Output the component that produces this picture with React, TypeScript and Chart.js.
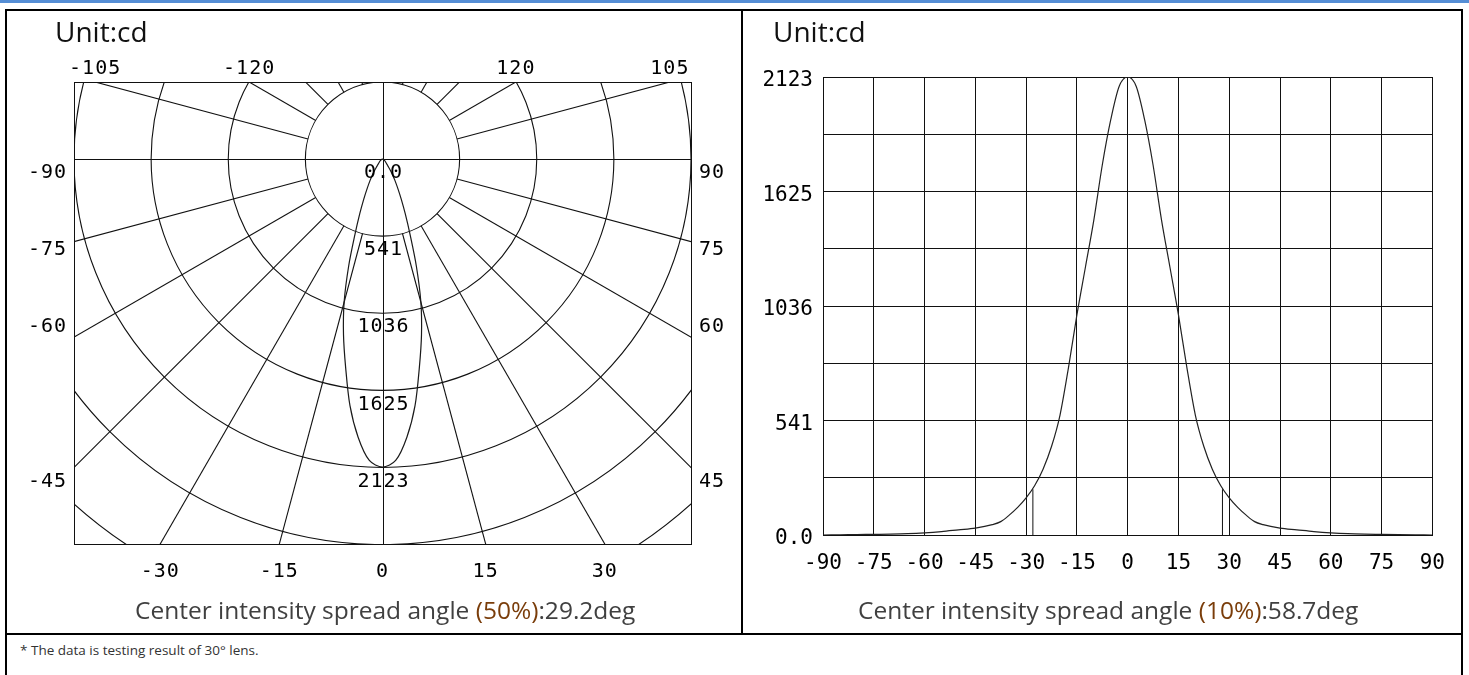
import React, { useEffect, useRef } from 'react';
import { Chart, registerables } from 'chart.js';

Chart.register(...registerables);

// ---------- data ----------
const angles = [
  -90, -85, -80, -75, -70, -65, -60, -55, -50, -45, -40, -37.5, -35, -32.5, -30, -27.5, -25, -22.5, -20, -17.5,
  -15, -12.5, -10, -7.5, -5, -2.5, 0, 2.5, 5, 7.5, 10, 12.5, 15, 17.5, 20, 22.5, 25, 27.5, 30, 32.5, 35, 37.5,
  40, 45, 50, 55, 60, 65, 70, 75, 80, 85, 90,
];
const intensity = [
  0, 1, 2, 3, 4, 6, 10, 16, 24, 32, 48, 62, 92, 128, 172, 228, 305, 410, 555, 775,
  1020, 1240, 1460, 1715, 1925, 2080, 2123, 2080, 1925, 1715, 1460, 1240, 1020, 775, 555, 410, 305, 228, 172, 128, 92, 62,
  48, 32, 24, 16, 10, 6, 4, 3, 2, 1, 0,
];
const peakValue = 2123;
const peakRing = 4;

// polar diagram
const ringRadii = [1, 2, 3, 4, 5, 6];
const ringLabels = ['0.0', '541', '1036', '1625', '2123'];
const spokeAngles = [
  -165, -150, -135, -120, -105, -75, -60, -45, -30, -15, 15, 30, 45, 60, 75, 105, 120, 135, 150, 165,
];
const polarAngleLabels = [-30, -15, 0, 15, 30, -45, -60, -75, -90, 45, 60, 75, 90, -105, -120, 120, 105];

// cartesian diagram
const xTickStep = 15;
const yTickLabels = ['0.0', '', '541', '', '1036', '', '1625', '', '2123'];
const markerAngles = [-28, 28];
const markerFraction = 0.1;

// texts
const unitText = 'Unit:cd';
const captionLeft = ['Center intensity spread angle ', '(50%)', ':29.2deg'];
const captionRight = ['Center intensity spread angle ', '(10%)', ':58.7deg'];
const footnote = '* The data is testing result of 30° lens.';

const MONO = '"DejaVu Sans Mono", monospace';
const LINE = '#111';

// ---------- polar chart ----------
const polarGridPlugin = {
  id: 'polarGrid',
  beforeDatasetsDraw(chart: any) {
    const { ctx, chartArea: a, scales } = chart;
    const cx = scales.x.getPixelForValue(0);
    const cy = scales.y.getPixelForValue(0);
    const unit = scales.x.getPixelForValue(1) - cx;
    ctx.save();
    ctx.beginPath();
    ctx.rect(a.left, a.top, a.right - a.left, a.bottom - a.top);
    ctx.clip();
    ctx.strokeStyle = LINE;
    ctx.lineWidth = 1.1;
    ringRadii.forEach((r) => {
      ctx.beginPath();
      ctx.arc(cx, cy, r * unit, 0, Math.PI * 2);
      ctx.stroke();
    });
    spokeAngles.forEach((deg) => {
      const t = (deg * Math.PI) / 180;
      const dx = Math.sin(t);
      const dy = Math.cos(t);
      ctx.beginPath();
      ctx.moveTo(cx + dx * unit, cy + dy * unit);
      ctx.lineTo(cx + dx * unit * 20, cy + dy * unit * 20);
      ctx.stroke();
    });
    ctx.lineWidth = 1;
    const ry = Math.round(cy) + 0.5;
    const rx = Math.round(cx) + 0.5;
    ctx.beginPath();
    ctx.moveTo(a.left, ry);
    ctx.lineTo(a.right, ry);
    ctx.moveTo(rx, a.top);
    ctx.lineTo(rx, a.bottom);
    ctx.stroke();
    ctx.restore();

    ctx.save();
    ctx.strokeStyle = LINE;
    ctx.lineWidth = 1;
    ctx.strokeRect(Math.round(a.left) + 0.5, Math.round(a.top) + 0.5, Math.round(a.right - a.left), Math.round(a.bottom - a.top));
    ctx.restore();
  },
  afterDatasetsDraw(chart: any) {
    const { ctx, chartArea: a, scales } = chart;
    const cx = scales.x.getPixelForValue(0);
    const cy = scales.y.getPixelForValue(0);
    const unit = scales.x.getPixelForValue(1) - cx;
    const rowOffset = 14;
    ctx.save();
    ctx.font = `20px ${MONO}`;
    (ctx as any).letterSpacing = '1px';
    ctx.fillStyle = '#000';
    // ring value labels
    ctx.textAlign = 'center';
    ctx.textBaseline = 'middle';
    ringLabels.forEach((txt, i) => {
      ctx.fillText(txt, cx + 1, cy + i * unit + rowOffset);
    });
    // angle labels at spoke ends (side labels snap to the text rows)
    polarAngleLabels.forEach((deg) => {
      const t = (deg * Math.PI) / 180;
      const dx = Math.sin(t);
      const dy = Math.cos(t);
      const cands: [number, string][] = [];
      if (dx < -1e-9) cands.push([(a.left - cx) / dx, 'left']);
      if (dx > 1e-9) cands.push([(a.right - cx) / dx, 'right']);
      if (dy > 1e-9) cands.push([(a.bottom - cy) / dy, 'bottom']);
      if (dy < -1e-9) cands.push([(a.top - cy) / dy, 'top']);
      cands.sort((p, q) => p[0] - q[0]);
      const [tt, side] = cands[0];
      const px = cx + dx * tt;
      const py = cy + dy * tt;
      const txt = String(deg);
      ctx.textBaseline = 'middle';
      if (side === 'bottom') {
        ctx.textAlign = 'center';
        ctx.fillText(txt, px, py + 28);
      } else if (side === 'top') {
        ctx.textAlign = 'center';
        ctx.fillText(txt, px, py - 13);
      } else {
        const row = Math.round((py - cy - rowOffset) / unit);
        const rowY = cy + rowOffset + row * unit;
        if (side === 'left') {
          ctx.textAlign = 'right';
          ctx.fillText(txt, px - 7, rowY);
        } else {
          ctx.textAlign = 'left';
          ctx.fillText(txt, px + 8, rowY);
        }
      }
    });
    ctx.restore();
  },
};

function PolarChart() {
  const ref = useRef<HTMLCanvasElement>(null);
  useEffect(() => {
    const scaleR = peakRing / peakValue;
    const pts = angles.map((deg, i) => {
      const t = (deg * Math.PI) / 180;
      const r = intensity[i] * scaleR;
      return { x: r * Math.sin(t), y: -r * Math.cos(t) };
    });
    const chart = new Chart(ref.current as HTMLCanvasElement, {
      type: 'scatter',
      data: {
        datasets: [
          {
            data: pts,
            showLine: true,
            borderColor: '#1a1a1a',
            borderWidth: 1.2,
            pointRadius: 0,
            tension: 0.3,
          },
        ],
      },
      options: {
        animation: false,
        responsive: false,
        events: [],
        layout: { padding: { left: 69, right: 51, top: 72, bottom: 89 } },
        plugins: { legend: { display: false }, tooltip: { enabled: false } },
        scales: {
          x: { type: 'linear', min: -4, max: 4, display: false },
          y: { type: 'linear', min: -5, max: 1, display: false },
        },
      },
      plugins: [polarGridPlugin],
    } as any);
    return () => chart.destroy();
  }, []);
  return <canvas ref={ref} width={737} height={623} style={{ position: 'absolute', left: 5, top: 10, width: 737, height: 623 }} />;
}

// ---------- cartesian chart ----------
function CurveChart() {
  const ref = useRef<HTMLCanvasElement>(null);
  useEffect(() => {
    const font = { family: MONO, size: 21 };
    const markerValue = peakValue * markerFraction;
    const chart = new Chart(ref.current as HTMLCanvasElement, {
      type: 'scatter',
      data: {
        datasets: [
          {
            data: angles.map((a, i) => ({ x: a, y: intensity[i] })),
            showLine: true,
            borderColor: '#222',
            borderWidth: 1.2,
            pointRadius: 0,
            cubicInterpolationMode: 'monotone',
          },
          ...markerAngles.map((a) => ({
            data: [
              { x: a, y: 0 },
              { x: a, y: markerValue },
            ],
            showLine: true,
            borderColor: LINE,
            borderWidth: 1,
            pointRadius: 0,
          })),
        ],
      },
      options: {
        animation: false,
        responsive: false,
        events: [],
        layout: { padding: { left: 20, top: 67, right: 28, bottom: 48 } },
        plugins: { legend: { display: false }, tooltip: { enabled: false } },
        scales: {
          x: {
            type: 'linear',
            min: -90,
            max: 90,
            ticks: { stepSize: xTickStep, font, color: '#000', padding: 16, maxRotation: 0, autoSkip: false },
            grid: { color: LINE, lineWidth: 1, drawTicks: false },
            border: { color: LINE },
            afterFit: (s: any) => {
              s.height = 50;
            },
          },
          y: {
            type: 'linear',
            min: 0,
            max: peakValue,
            afterBuildTicks: (s: any) => {
              s.ticks = yTickLabels.map((_, i) => ({ value: (i * peakValue) / (yTickLabels.length - 1) }));
            },
            ticks: {
              font,
              color: '#000',
              padding: 10,
              labelOffset: 4,
              autoSkip: false,
              callback: (_v: any, i: number) => yTickLabels[i],
            },
            grid: { color: LINE, lineWidth: 1, drawTicks: false },
            border: { color: LINE },
            afterFit: (s: any) => {
              s.width = 60;
            },
          },
        },
      },
    } as any);
    return () => chart.destroy();
  }, []);
  return <canvas ref={ref} width={718} height={623} style={{ position: 'absolute', left: 743, top: 10, width: 718, height: 623 }} />;
}

const textBase: React.CSSProperties = {
  position: 'absolute',
  fontFamily: '"Open Sans", "Noto Sans", sans-serif',
  lineHeight: 1,
  whiteSpace: 'nowrap',
};

function Caption({ parts, left }: { parts: string[]; left: number }) {
  return (
    <div style={{ ...textBase, left, top: 598, fontSize: 24.5, color: '#404040' }}>
      {parts[0]}
      <span style={{ color: '#7a3d0a' }}>{parts[1]}</span>
      {parts[2]}
    </div>
  );
}

export default function App() {
  return (
    <div style={{ position: 'fixed', left: 0, top: 0, width: 1469, height: 675, background: '#fff', overflow: 'hidden' }}>
      <div style={{ position: 'absolute', left: 0, top: 0, width: 1469, height: 3, background: '#558ED5' }} />
      <div style={{ position: 'absolute', left: 5, top: 9, width: 1458, height: 2, background: '#000' }} />
      <div style={{ position: 'absolute', left: 5, top: 9, width: 2, height: 666, background: '#000' }} />
      <div style={{ position: 'absolute', left: 1461, top: 9, width: 2, height: 666, background: '#000' }} />
      <div style={{ position: 'absolute', left: 741, top: 9, width: 2, height: 626, background: '#000' }} />
      <div style={{ position: 'absolute', left: 5, top: 633, width: 1458, height: 2, background: '#000' }} />
      <PolarChart />
      <CurveChart />
      <div style={{ ...textBase, left: 55, top: 17, fontSize: 28, color: '#111' }}>{unitText}</div>
      <div style={{ ...textBase, left: 773, top: 17, fontSize: 28, color: '#111' }}>{unitText}</div>
      <Caption parts={captionLeft} left={135} />
      <Caption parts={captionRight} left={858} />
      <div style={{ ...textBase, left: 20, top: 644, fontSize: 13.5, color: '#333' }}>{footnote}</div>
    </div>
  );
}
